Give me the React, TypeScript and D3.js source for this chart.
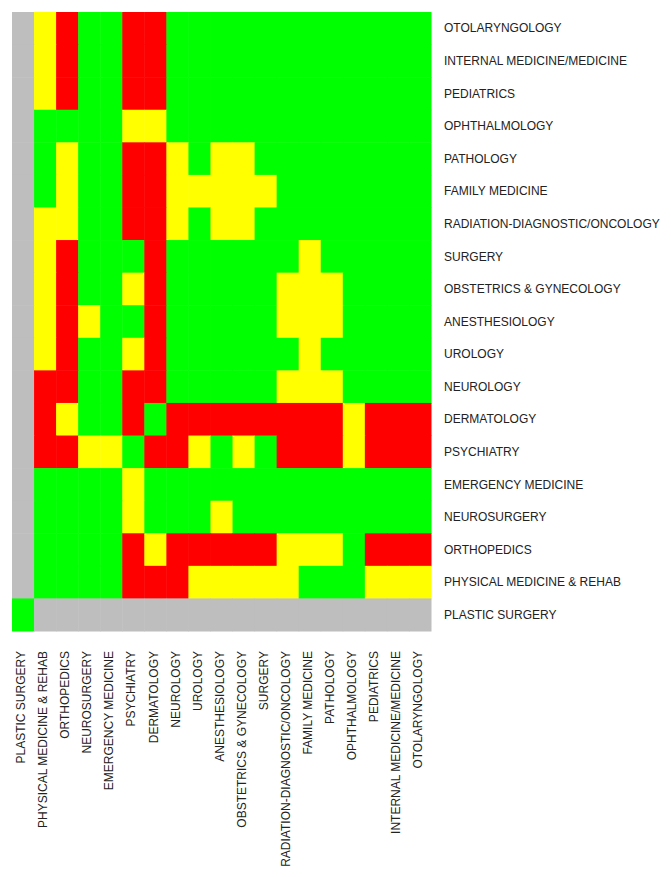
import { useEffect, useRef } from "react";
import * as d3 from "d3";

const width = 671;
const height = 877;
const grid = { left: 12, top: 12, right: 431, bottom: 631 };

// column order (left to right)
const specialties = [
  "PLASTIC SURGERY",
  "PHYSICAL MEDICINE & REHAB",
  "ORTHOPEDICS",
  "NEUROSURGERY",
  "EMERGENCY MEDICINE",
  "PSYCHIATRY",
  "DERMATOLOGY",
  "NEUROLOGY",
  "UROLOGY",
  "ANESTHESIOLOGY",
  "OBSTETRICS & GYNECOLOGY",
  "SURGERY",
  "RADIATION-DIAGNOSTIC/ONCOLOGY",
  "FAMILY MEDICINE",
  "PATHOLOGY",
  "OPHTHALMOLOGY",
  "PEDIATRICS",
  "INTERNAL MEDICINE/MEDICINE",
  "OTOLARYNGOLOGY",
];

// rows top to bottom are the same specialties reversed
const rowLabels = specialties.slice().reverse();

// G = green, Y = yellow, R = red, N = not applicable (gray)
const cells = [
  "NYRGGRRGGGGGGGGGGGG",
  "NYRGGRRGGGGGGGGGGGG",
  "NYRGGRRGGGGGGGGGGGG",
  "NGGGGYYGGGGGGGGGGGG",
  "NGYGGRRYGYYGGGGGGGG",
  "NGYGGRRYYYYYGGGGGGG",
  "NYYGGRRYGYYGGGGGGGG",
  "NYRGGGRGGGGGGYGGGGG",
  "NYRGGYRGGGGGYYYGGGG",
  "NYRYGGRGGGGGYYYGGGG",
  "NYRGGYRGGGGGGYGGGGG",
  "NRRGGRRGGGGGYYYGGGG",
  "NRYGGRGRRRRRRRRYRRR",
  "NRRYYGRRYGYGRRRYRRR",
  "NGGGGYGGGGGGGGGGGGG",
  "NGGGGYGGGYGGGGGGGGG",
  "NGGGGRYRRRRRYYYGRRR",
  "NGGGGRRRYYYYYGGGYYY",
  "GNNNNNNNNNNNNNNNNNN",
];

const levels = ["G", "Y", "R", "N"];
const levelColors = ["#00ff00", "#ffff00", "#ff0000", "#bebebe"];

const font = "'Liberation Sans', Arial, sans-serif";

const App = () => {
  const svgRef = useRef<SVGSVGElement | null>(null);

  useEffect(() => {
    if (!svgRef.current) return;
    const svg = d3.select(svgRef.current);
    svg.selectAll("*").remove();

    const x = d3.scaleBand().domain(specialties).range([grid.left, grid.right]).padding(0);
    const y = d3.scaleBand().domain(rowLabels).range([grid.top, grid.bottom]).padding(0);
    const color = d3.scaleOrdinal<string, string>().domain(levels).range(levelColors);

    const data = rowLabels.flatMap((row, i) =>
      specialties.map((col, j) => ({ row, col, v: cells[i][j] }))
    );

    svg.append("g")
      .selectAll("rect")
      .data(data)
      .enter()
      .append("rect")
      .attr("x", d => x(d.col) as number)
      .attr("y", d => y(d.row) as number)
      .attr("width", x.bandwidth() + 0.5)
      .attr("height", y.bandwidth() + 0.5)
      .attr("fill", d => color(d.v));

    // right side row labels
    svg.append("g")
      .selectAll("text")
      .data(rowLabels)
      .enter()
      .append("text")
      .attr("x", grid.right + 13)
      .attr("y", d => (y(d) as number) + y.bandwidth() / 2)
      .attr("dy", "0.35em")
      .attr("font-family", font)
      .attr("font-size", 12)
      .attr("fill", "#222")
      .text(d => d);

    // bottom column labels, rotated
    svg.append("g")
      .selectAll("text")
      .data(specialties)
      .enter()
      .append("text")
      .attr("transform", d => `translate(${(x(d) as number) + x.bandwidth() / 2 - 2}, ${grid.bottom + 20}) rotate(-90)`)
      .attr("dy", "0.35em")
      .attr("text-anchor", "end")
      .attr("font-family", font)
      .attr("font-size", 12)
      .attr("fill", "#222")
      .text(d => d);
  }, []);

  return (
    <svg
      ref={svgRef}
      width={width}
      height={height}
      viewBox={`0 0 ${width} ${height}`}
      style={{ position: "absolute", left: 0, top: 0, background: "#fff" }}
    />
  );
};

export default App;
